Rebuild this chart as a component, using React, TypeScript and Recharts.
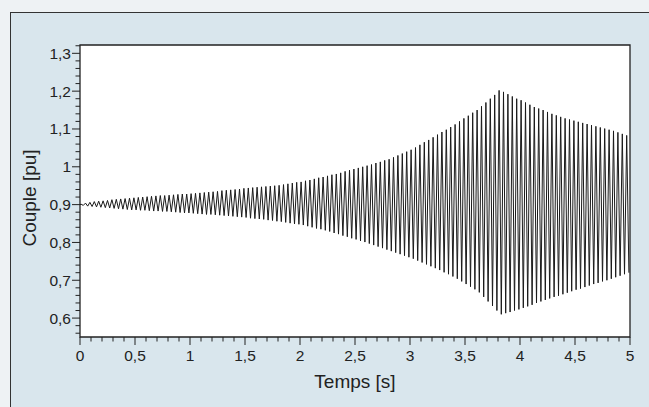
import React from 'react';
import { LineChart, Line, XAxis, YAxis, ReferenceArea } from 'recharts';

// Torque oscillation: one crest and one trough per cycle
const PERIOD = 0.04; // s per cycle
const START = 0.9;

const peaks = [
  0.901, 0.904, 0.906, 0.908, 0.909,
  0.910, 0.911, 0.913, 0.914, 0.915,
  0.916, 0.917, 0.918, 0.919, 0.920,
  0.921, 0.922, 0.923, 0.924, 0.924,
  0.925, 0.926, 0.927, 0.928, 0.928,
  0.929, 0.930, 0.931, 0.932, 0.933,
  0.934, 0.935, 0.937, 0.938, 0.939,
  0.940, 0.941, 0.943, 0.944, 0.945,
  0.946, 0.947, 0.948, 0.949, 0.950,
  0.951, 0.953, 0.955, 0.957, 0.959,
  0.960, 0.963, 0.965, 0.968, 0.971,
  0.973, 0.976, 0.979, 0.981, 0.984,
  0.988, 0.991, 0.994, 0.997, 1.000,
  1.003, 1.006, 1.010, 1.013, 1.017,
  1.020, 1.025, 1.030, 1.035, 1.040,
  1.045, 1.051, 1.058, 1.065, 1.071,
  1.078, 1.085, 1.092, 1.098, 1.105,
  1.112, 1.120, 1.128, 1.135, 1.143,
  1.150, 1.160, 1.170, 1.180, 1.190,
  1.202, 1.198, 1.192, 1.186, 1.180,
  1.176, 1.170, 1.164, 1.158, 1.154,
  1.150, 1.145, 1.140, 1.136, 1.132,
  1.128, 1.125, 1.122, 1.119, 1.116,
  1.113, 1.110, 1.107, 1.104, 1.101,
  1.098, 1.095, 1.091, 1.087, 1.083,
];

const troughs = [
  0.898, 0.896, 0.895, 0.894, 0.893,
  0.892, 0.891, 0.890, 0.889, 0.888,
  0.887, 0.886, 0.886, 0.885, 0.885,
  0.884, 0.883, 0.883, 0.882, 0.882,
  0.881, 0.880, 0.879, 0.878, 0.878,
  0.877, 0.876, 0.875, 0.874, 0.874,
  0.873, 0.872, 0.871, 0.870, 0.869,
  0.868, 0.867, 0.866, 0.864, 0.863,
  0.862, 0.861, 0.859, 0.858, 0.856,
  0.855, 0.853, 0.851, 0.849, 0.848,
  0.846, 0.843, 0.840, 0.837, 0.835,
  0.832, 0.829, 0.825, 0.822, 0.818,
  0.815, 0.811, 0.808, 0.804, 0.801,
  0.797, 0.793, 0.789, 0.785, 0.781,
  0.777, 0.773, 0.769, 0.765, 0.761,
  0.757, 0.752, 0.747, 0.742, 0.737,
  0.732, 0.727, 0.721, 0.716, 0.710,
  0.704, 0.697, 0.690, 0.683, 0.676,
  0.668, 0.656, 0.644, 0.632, 0.620,
  0.610, 0.613, 0.616, 0.620, 0.623,
  0.627, 0.631, 0.635, 0.640, 0.644,
  0.648, 0.652, 0.656, 0.659, 0.663,
  0.667, 0.671, 0.675, 0.678, 0.682,
  0.686, 0.690, 0.693, 0.697, 0.700,
  0.704, 0.708, 0.712, 0.716, 0.720,
];

const xMajor = [0, 0.5, 1, 1.5, 2, 2.5, 3, 3.5, 4, 4.5, 5];
const yMajor = [0.6, 0.7, 0.8, 0.9, 1, 1.1, 1.2, 1.3];

const data = [
  { t: 0, v: START },
  ...peaks.flatMap((p, i) => [
    { t: +(i * PERIOD + PERIOD / 4).toFixed(3), v: p },
    { t: +(i * PERIOD + (3 * PERIOD) / 4).toFixed(3), v: troughs[i] },
  ]),
];

// minor ticks every 0.1 s and every 0.02 pu
const xTicks = Array.from({ length: 51 }, (_, i) => +(i * 0.1).toFixed(2));
const yTicks = Array.from({ length: 39 }, (_, i) => +(0.56 + i * 0.02).toFixed(2));

const isMajor = (v: number, list: number[]) => list.some(m => Math.abs(m - v) < 1e-6);
const fmt = (v: number) => String(v).replace('.', ',');

const FONT = '"Liberation Sans", Arial, sans-serif';

const XTick = (props: any) => {
  const { x, payload } = props;
  const y = 337;
  const major = isMajor(payload.value, xMajor);
  return (
    <g>
      <line x1={x} x2={x} y1={y} y2={y + (major ? 8 : 4.5)} stroke="#222" strokeWidth={1} />
      {major && (
        <text x={x} y={y + 24} textAnchor="middle" fontSize={15.5} fontFamily={FONT} fill="#222">
          {fmt(payload.value)}
        </text>
      )}
    </g>
  );
};

const YTick = (props: any) => {
  const { y, payload } = props;
  const x = 80;
  const major = isMajor(payload.value, yMajor);
  return (
    <g>
      <line x1={x} x2={x - (major ? 8 : 4.5)} y1={y} y2={y} stroke="#222" strokeWidth={1} />
      {major && (
        <text x={x - 9} y={y + 5.5} textAnchor="end" fontSize={15.5} fontFamily={FONT} fill="#222">
          {fmt(payload.value)}
        </text>
      )}
    </g>
  );
};

export default function App() {
  return (
    <div style={{ position: 'fixed', left: 0, top: 0, width: 649, height: 407, overflow: 'hidden', background: '#eef2f4' }}>
      <div
        style={{
          position: 'absolute', left: 10, top: 12, width: 660, height: 420,
          borderTop: '1.5px solid #333', borderLeft: '1.5px solid #333', background: '#d9e6ed',
        }}
      />
      <div style={{ position: 'absolute', left: 0, top: 0 }}>
        <LineChart width={649} height={407} data={data} margin={{ top: 45, right: 19, bottom: 40, left: 50 }}>
          <XAxis
            dataKey="t" type="number" domain={[0, 5]} ticks={xTicks} interval={0}
            height={30} axisLine={false} tickLine={false} tick={<XTick />}
          />
          <YAxis
            type="number" domain={[0.55, 1.322]} ticks={yTicks} interval={0}
            width={30} axisLine={false} tickLine={false} tick={<YTick />}
            allowDataOverflow
          />
          <ReferenceArea x1={0} x2={5} y1={0.55} y2={1.322} fill="#ffffff" fillOpacity={1} stroke="#222" strokeWidth={1.3} />
          <Line dataKey="v" stroke="#1a1a1a" strokeWidth={1} dot={false} isAnimationActive={false} />
        </LineChart>
      </div>
      <div style={{ position: 'absolute', left: 355, top: 371, transform: 'translateX(-50%)', whiteSpace: 'nowrap', fontFamily: FONT, fontSize: 19, color: '#222' }}>
        Temps [s]
      </div>
      <div
        style={{
          position: 'absolute', left: 30, top: 198, transform: 'translate(-50%, -50%) rotate(-90deg)',
          whiteSpace: 'nowrap', fontFamily: FONT, fontSize: 19, color: '#222',
        }}
      >
        Couple [pu]
      </div>
    </div>
  );
}
